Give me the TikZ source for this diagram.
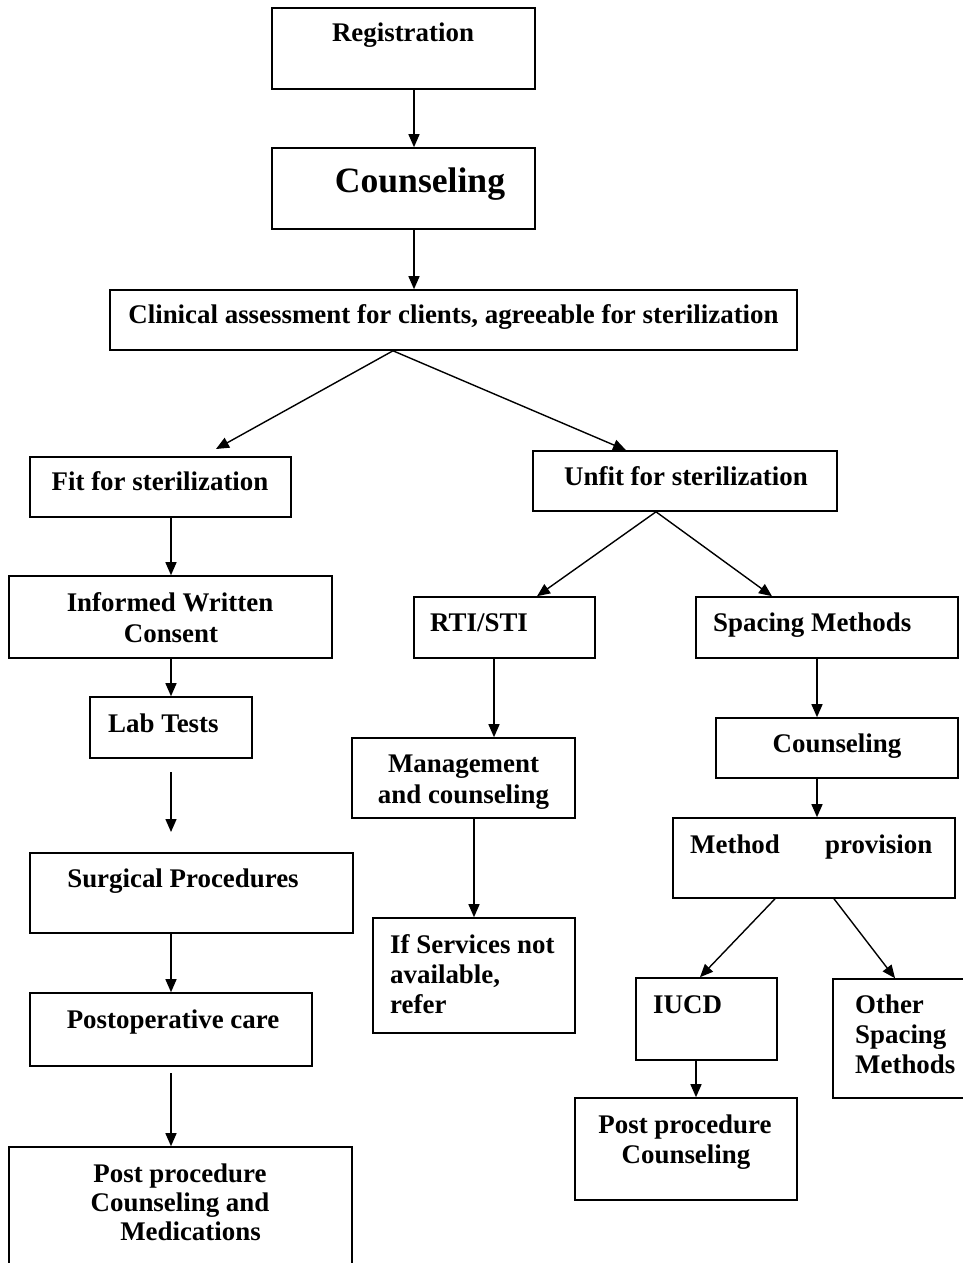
\documentclass[tikz,border=0pt]{standalone}
\usepackage{fontspec}
\setmainfont{Liberation Serif}
\usetikzlibrary{arrows.meta}
\begin{document}
\begin{tikzpicture}[x=1pt,y=-1pt,
  box/.style={draw, line width=1.6pt, inner sep=0pt, rectangle},
  arr/.style={line width=1.4pt, -{Triangle[length=13pt,width=11pt]}},
  txt/.style={font=\fontsize{26.9pt}{30pt}\selectfont\bfseries, inner sep=0pt},
  bigtxt/.style={font=\fontsize{35.6pt}{40pt}\selectfont\bfseries, inner sep=0pt}]
\useasboundingbox (0,0) rectangle (963,1263);
\clip (0,0) rectangle (963,1263);
\fill[white] (0,0) rectangle (963,1263);
% boxes
\node[box, minimum width=263pt, minimum height=81pt] (reg) at (403.5,48.5) {};
\node[box, minimum width=263pt, minimum height=81pt] (couns) at (403.5,188.5) {};
\node[box, minimum width=687pt, minimum height=60pt] (clin) at (453.5,320) {};
\node[box, minimum width=261pt, minimum height=60pt] (fit) at (160.5,487) {};
\node[box, minimum width=304pt, minimum height=60pt] (unfit) at (685,481) {};
\node[box, minimum width=323pt, minimum height=82pt] (inf) at (170.5,617) {};
\node[box, minimum width=181pt, minimum height=61pt] (rti) at (504.5,627.5) {};
\node[box, minimum width=262pt, minimum height=61pt] (spac) at (827,627.5) {};
\node[box, minimum width=162pt, minimum height=61pt] (lab) at (171,727.5) {};
\node[box, minimum width=223pt, minimum height=80pt] (mgmt) at (463.5,778) {};
\node[box, minimum width=242pt, minimum height=60pt] (couns2) at (837,748) {};
\node[box, minimum width=282pt, minimum height=80pt] (meth) at (814,858) {};
\node[box, minimum width=323pt, minimum height=80pt] (surg) at (191.5,893) {};
\node[box, minimum width=282pt, minimum height=73pt] (postop) at (171,1029.5) {};
\node[box, minimum width=343pt, minimum height=143pt] (ppcm) at (180.5,1218.5) {};
\node[box, minimum width=202pt, minimum height=115pt] (ifs) at (474,975.5) {};
\node[box, minimum width=141pt, minimum height=82pt] (iucd) at (706.5,1019) {};
\node[box, minimum width=157pt, minimum height=119pt] (other) at (911.5,1038.5) {};
\node[box, minimum width=222pt, minimum height=102pt] (pp2) at (686,1149) {};
% texts
\node[txt, anchor=base] (t1) at (403,42) {Registration};
\node[bigtxt, anchor=base] (t2) at (420,192) {Counseling};
\node[txt, anchor=base] (t3) at (453.5,323) {Clinical assessment for clients, agreeable for sterilization};
\node[txt, anchor=base] (t4) at (160,490) {Fit for sterilization};
\node[txt, anchor=base] (t5) at (686,485) {Unfit for sterilization};
\node[txt, anchor=base] (t6a) at (170,611) {Informed Written};
\node[txt, anchor=base] (t6b) at (171,642) {Consent};
\node[txt, anchor=base west] (t7) at (430,631) {RTI/STI};
\node[txt, anchor=base west] (t8) at (713,631) {Spacing Methods};
\node[txt, anchor=base west] (t9) at (108,732) {Lab Tests};
\node[txt, anchor=base] (t10a) at (463.5,772) {Management};
\node[txt, anchor=base] (t10b) at (463.5,803) {and counseling};
\node[txt, anchor=base] (t11) at (837,752) {Counseling};
\node[txt, anchor=base west] (t12) at (690,853) {\makebox[242pt][l]{Method\hfill provision}};
\node[txt, anchor=base] (t13) at (183,887) {Surgical Procedures};
\node[txt, anchor=base] (t14) at (173,1028) {Postoperative care};
\node[txt, anchor=base] (t15a) at (180,1182) {Post procedure};
\node[txt, anchor=base] (t15b) at (180,1211) {Counseling and};
\node[txt, anchor=base] (t15c) at (190.5,1240) {Medications};
\node[txt, anchor=base west] (t16a) at (390,953) {If Services not};
\node[txt, anchor=base west] (t16b) at (390,983) {available,};
\node[txt, anchor=base west] (t16c) at (390,1013) {refer};
\node[txt, anchor=base west] (t17) at (653,1013) {IUCD};
\node[txt, anchor=base west] (t18a) at (855,1013) {Other};
\node[txt, anchor=base west] (t18b) at (855,1043) {Spacing};
\node[txt, anchor=base west] (t18c) at (855,1073) {Methods};
\node[txt, anchor=base] (t19a) at (685,1133) {Post procedure};
\node[txt, anchor=base] (t19b) at (686,1163) {Counseling};
% column coordinates
\coordinate (xA) at (171,0);
\coordinate (xB) at (414,0);
\coordinate (xApex) at (393,0);
\coordinate (xU) at (626,0);
\coordinate (xUs) at (656,0);
\coordinate (xR1) at (537,0);
\coordinate (xS1) at (772,0);
\coordinate (xR) at (494,0);
\coordinate (xM) at (474,0);
\coordinate (xS) at (817,0);
\coordinate (xMa) at (775,0);
\coordinate (xMb) at (834,0);
\coordinate (xI1) at (700,0);
\coordinate (xO1) at (895,0);
\coordinate (xI) at (696,0);
\coordinate (fitTip) at (216,449);
\coordinate (labGap) at (171,772);
\coordinate (surgGap) at (171,832);
\coordinate (postGap) at (171,1073);
% connectors
\draw[arr] (reg.south -| xB) -- (couns.north -| xB);
\draw[arr] (couns.south -| xB) -- (clin.north -| xB);
\draw[arr] (clin.south -| xApex) -- (fitTip);
\draw[arr] (clin.south -| xApex) -- (unfit.north -| xU);
\draw[arr] (fit.south -| xA) -- (inf.north -| xA);
\draw[arr] (inf.south -| xA) -- (lab.north -| xA);
\draw[arr] (labGap) -- (surgGap);
\draw[arr] (surg.south -| xA) -- (postop.north -| xA);
\draw[arr] (postGap) -- (ppcm.north -| xA);
\draw[arr] (unfit.south -| xUs) -- (rti.north -| xR1);
\draw[arr] (unfit.south -| xUs) -- (spac.north -| xS1);
\draw[arr] (rti.south -| xR) -- (mgmt.north -| xR);
\draw[arr] (mgmt.south -| xM) -- (ifs.north -| xM);
\draw[arr] (spac.south -| xS) -- (couns2.north -| xS);
\draw[arr] (couns2.south -| xS) -- (meth.north -| xS);
\draw[arr] (meth.south -| xMa) -- (iucd.north -| xI1);
\draw[arr] (meth.south -| xMb) -- (other.north -| xO1);
\draw[arr] (iucd.south -| xI) -- (pp2.north -| xI);
\end{tikzpicture}
\end{document}
